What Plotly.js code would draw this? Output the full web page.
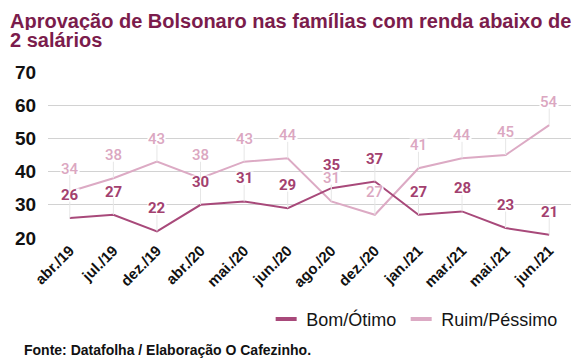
<!DOCTYPE html>
<html><head><meta charset="utf-8">
<script src="https://cdn.plot.ly/plotly-3.0.1.min.js"></script>
<style>html,body{margin:0;padding:0;background:#fff}#chart{width:582px;height:361px}</style>
</head><body><div id="chart"></div>
<script>
const categories = ["abr./19","jul./19","dez./19","abr./20","mai./20","jun./20","ago./20","dez./20","jan./21","mar./21","mai./21","jun./21"];
const bomOtimo = [26,27,22,30,31,29,35,37,27,28,23,21];
const ruimPessimo = [34,38,43,38,43,44,31,27,41,44,45,54];
const seriesNames = ["Bom/Ótimo","Ruim/Péssimo"];
const titleLines = ["Aprovação de Bolsonaro nas famílias com renda abaixo de","2 salários"];
const sourceText = "Fonte: Datafolha / Elaboração O Cafezinho.";

const cBom = "#a8497a", cRuim = "#dcaac4";
const cBomTxt = "#a3416f", cRuimTxt = "#dba7c1";

const traces = [
  {x: categories, y: ruimPessimo, name: seriesNames[1], type: "scatter", mode: "lines",
   line: {color: cRuim, width: 2}, showlegend: false},
  {x: categories, y: bomOtimo, name: seriesNames[0], type: "scatter", mode: "lines",
   line: {color: cBom, width: 2}, showlegend: false},
  {x: [null], y: [null], name: seriesNames[0], type: "scatter", mode: "markers",
   marker: {symbol: "line-ew", size: 15, color: cBom, line: {color: cBom, width: 4}}},
  {x: [null], y: [null], name: seriesNames[1], type: "scatter", mode: "markers",
   marker: {symbol: "line-ew", size: 15, color: cRuim, line: {color: cRuim, width: 4}}}
];

const ann = [];
function addLabels(vals, color, weight) {
  vals.forEach((v, i) => {
    ann.push({x: categories[i], y: v, xref: "x", yref: "y", text: String(v),
      showarrow: true, arrowhead: 0, arrowwidth: 1, arrowcolor: "#e6e6e6",
      ax: 0, ay: -23, bgcolor: "#ffffff", borderpad: 0, height: 12,
      font: {family: "Roboto, sans-serif", size: 15, color: color, weight: weight}});
  });
}
addLabels(bomOtimo, cBomTxt, 700);
addLabels(ruimPessimo, cRuimTxt, 500);

ann.push({xref: "paper", yref: "paper", x: -0.076, y: 1.31, xanchor: "left", yanchor: "middle",
  showarrow: false, text: titleLines[0], height: 18,
  font: {family: "Liberation Sans, Arial, sans-serif", size: 20, color: "#7b1c4c", weight: 700}});
ann.push({xref: "paper", yref: "paper", x: -0.076, y: 1.19, xanchor: "left", yanchor: "middle",
  showarrow: false, text: titleLines[1], height: 18,
  font: {family: "Liberation Sans, Arial, sans-serif", size: 20, color: "#7b1c4c", weight: 700}});
ann.push({xref: "paper", yref: "paper", x: -0.05, y: -0.675, xanchor: "left", yanchor: "middle",
  showarrow: false, text: sourceText,
  font: {family: "Liberation Sans, Arial, sans-serif", size: 14, color: "#111", weight: 700}});

const layout = {
  width: 582, height: 361,
  margin: {l: 48, r: 11, t: 72, b: 123, pad: 0},
  paper_bgcolor: "#fff", plot_bgcolor: "#fff",
  showlegend: true,
  legend: {orientation: "h", x: 0.985, xanchor: "right", y: -0.49, yanchor: "middle",
    font: {family: "Liberation Sans, Arial, sans-serif", size: 18, color: "#151515"},
    itemwidth: 30, tracegroupgap: 0, traceorder: "normal"},
  xaxis: {type: "category", range: [-0.5, 11.5], showgrid: false, zeroline: false, showline: false,
    tickangle: -45, ticks: "",
    tickfont: {family: "Liberation Sans, Arial, sans-serif", size: 15, color: "#111", weight: 700}},
  yaxis: {range: [20, 70], dtick: 10, tick0: 0, showgrid: true, gridcolor: "#d2d2d2", gridwidth: 1,
    zeroline: false, showline: false, ticks: "outside", ticklen: 7, tickcolor: "rgba(0,0,0,0)",
    tickfont: {family: "Liberation Sans, Arial, sans-serif", size: 19, color: "#111", weight: 700}},
  annotations: ann
};
Plotly.newPlot("chart", traces, layout, {displayModeBar: false, staticPlot: true});
</script></body></html>
